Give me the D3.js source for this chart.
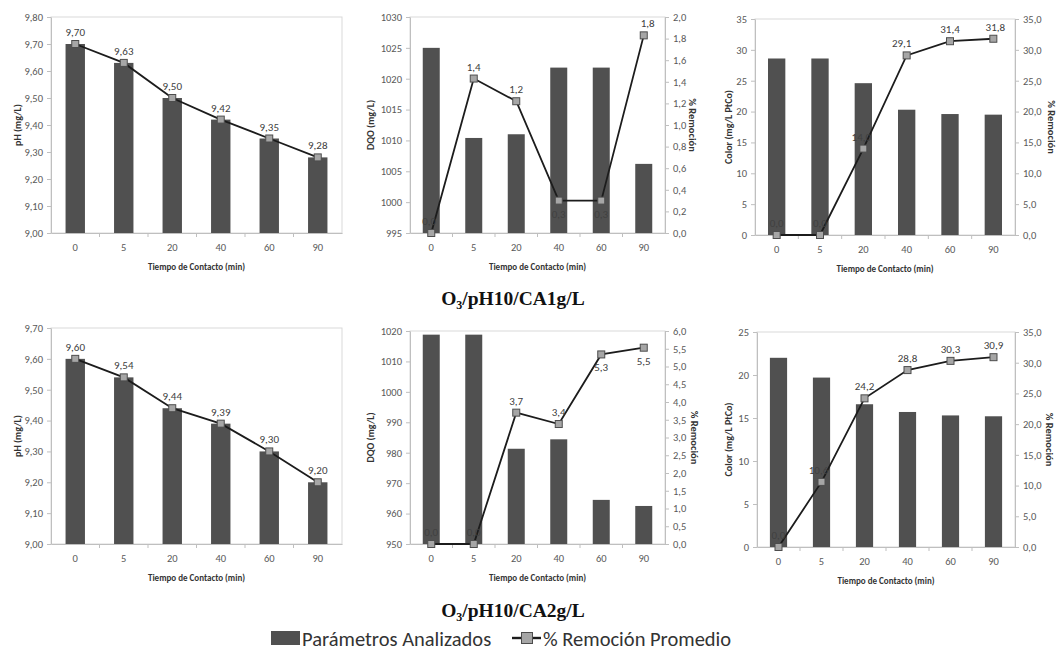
<!DOCTYPE html>
<html>
<head>
<meta charset="utf-8">
<script src="https://cdn.jsdelivr.net/npm/d3@7/dist/d3.min.js"></script>
<style>
  html, body { margin: 0; padding: 0; background: #ffffff; }
  svg { display: block; }
  text { font-family: Carlito, Lato, "Open Sans", sans-serif; }
</style>
</head>
<body>
<svg id="chart" width="1057" height="657"></svg>
<script>
// ---------------- DATA ----------------
const categories = ["0", "5", "20", "40", "60", "90"];

// Row 1: O3/pH10/CA1g/L
const ph1 = [9.70, 9.63, 9.50, 9.42, 9.35, 9.28];
const dqo1 = [1025.0, 1010.4, 1011.0, 1021.8, 1021.8, 1006.2];
const dqoRem1 = [0.00, 1.43, 1.22, 0.30, 0.30, 1.83];
const color1 = [28.6, 28.6, 24.6, 20.3, 19.6, 19.5];
const colorRem1 = [0.0, 0.0, 14.0, 29.1, 31.4, 31.8];

// Row 2: O3/pH10/CA2g/L
const ph2 = [9.60, 9.54, 9.44, 9.39, 9.30, 9.20];
const dqo2 = [1018.8, 1018.8, 981.3, 984.4, 964.5, 962.5];
const dqoRem2 = [0.00, 0.00, 3.70, 3.38, 5.34, 5.53];
const color2 = [22.0, 19.7, 16.6, 15.7, 15.3, 15.2];
const colorRem2 = [0.0, 10.6, 24.2, 28.8, 30.3, 30.9];

// Tick values
const phTicks1 = [9.00, 9.10, 9.20, 9.30, 9.40, 9.50, 9.60, 9.70, 9.80];
const phTicks2 = [9.00, 9.10, 9.20, 9.30, 9.40, 9.50, 9.60, 9.70];
const dqoTicks1 = [995, 1000, 1005, 1010, 1015, 1020, 1025, 1030];
const dqoTicks2 = [950, 960, 970, 980, 990, 1000, 1010, 1020];
const remTicks1 = [0.0, 0.2, 0.4, 0.6, 0.8, 1.0, 1.2, 1.4, 1.6, 1.8, 2.0];
const remTicks2 = [0.0, 0.5, 1.0, 1.5, 2.0, 2.5, 3.0, 3.5, 4.0, 4.5, 5.0, 5.5, 6.0];
const colorTicks1 = [0, 5, 10, 15, 20, 25, 30, 35];
const colorTicks2 = [0, 5, 10, 15, 20, 25];
const colorRemTicks = [0, 5, 10, 15, 20, 25, 30, 35];

// Texts
const xTitle = "Tiempo de Contacto (min)";
const rowTitles = ["CA1g/L", "CA2g/L"];
const legendLabels = ["Parámetros Analizados", "% Remoción Promedio"];

// ---------------- DRAWING ----------------
const locale = d3.formatLocale({ decimal: ",", thousands: ".", grouping: [3], currency: ["", ""] });
const f0 = locale.format(".0f"), f1 = locale.format(".1f"), f2 = locale.format(".2f");

const svg = d3.select("#chart");
svg.append("rect").attr("width", 1057).attr("height", 657).attr("fill", "#fff");

const BAR = "#505050", AXIS = "#bfbfbf", FRAME = "#d9d9d9", TICKTXT = "#595959";

function panel(cfg) {
  const g = svg.append("g");
  const x = d3.scaleBand().domain(categories).range([cfg.left, cfg.right])
    .paddingInner(0.6).paddingOuter(0.3);
  const yL = d3.scaleLinear().domain([cfg.lTicks[0], cfg.lTicks[cfg.lTicks.length - 1]])
    .range([cfg.bottom, cfg.top]);
  const yR = cfg.rTicks ? d3.scaleLinear().domain([cfg.rTicks[0], cfg.rTicks[cfg.rTicks.length - 1]])
    .range([cfg.bottom, cfg.top]) : yL;

  // frame
  g.append("rect").attr("x", cfg.left).attr("y", cfg.top)
    .attr("width", cfg.right - cfg.left).attr("height", cfg.bottom - cfg.top)
    .attr("fill", "none").attr("stroke", FRAME).attr("stroke-width", 1);

  // bars
  g.selectAll(".bar").data(cfg.bars).join("rect")
    .attr("x", (d, i) => x(categories[i]))
    .attr("width", x.bandwidth())
    .attr("y", d => yL(d))
    .attr("height", d => cfg.bottom - yL(d))
    .attr("fill", BAR);

  // left axis
  const axL = g.append("g").attr("transform", `translate(${cfg.left},0)`)
    .call(d3.axisLeft(yL).tickValues(cfg.lTicks).tickFormat(cfg.lFmt).tickSize(4).tickSizeOuter(0).tickPadding(4));
  axL.select(".domain").attr("stroke", AXIS);
  axL.selectAll(".tick line").attr("stroke", AXIS);
  axL.selectAll(".tick text").attr("fill", TICKTXT).style("font-size", "10.5px")
    .style("font-family", "Carlito, Lato, sans-serif");

  // right axis
  if (cfg.rTicks) {
    const axR = g.append("g").attr("transform", `translate(${cfg.right},0)`)
      .call(d3.axisRight(yR).tickValues(cfg.rTicks).tickFormat(cfg.rFmt).tickSize(4).tickSizeOuter(0).tickPadding(4));
    axR.select(".domain").attr("stroke", AXIS);
    axR.selectAll(".tick line").attr("stroke", AXIS);
    axR.selectAll(".tick text").attr("fill", TICKTXT).style("font-size", "10.5px")
      .style("font-family", "Carlito, Lato, sans-serif");
    g.append("text")
      .attr("transform", `translate(${cfg.rTitleX},${(cfg.top + cfg.bottom) / 2}) rotate(90)`)
      .attr("text-anchor", "middle").attr("dy", "0.35em")
      .attr("fill", "#333").style("font-size", "10.5px").style("font-weight", "bold")
      .text("% Remoción");
  }

  // bottom axis
  const axB = g.append("g").attr("transform", `translate(0,${cfg.bottom})`)
    .call(d3.axisBottom(x).tickSize(0).tickPadding(11));
  axB.select(".domain").attr("stroke", AXIS);
  axB.selectAll(".tick text").attr("fill", TICKTXT).style("font-size", "10.5px")
    .style("font-family", "Carlito, Lato, sans-serif");
  // minor ticks at category boundaries
  const step = x.step();
  const bounds = categories.slice(1).map(c => x(c) - step * x.paddingInner() / 2);
  g.selectAll(".mtick").data(bounds).join("line")
    .attr("x1", d => d).attr("x2", d => d)
    .attr("y1", cfg.bottom).attr("y2", cfg.bottom + 4)
    .attr("stroke", AXIS);

  // titles
  g.append("text").attr("x", (cfg.left + cfg.right) / 2).attr("y", cfg.bottom + 37)
    .attr("text-anchor", "middle").attr("fill", "#333")
    .style("font-size", "9px").style("font-weight", "bold").text(xTitle);
  g.append("text")
    .attr("transform", `translate(${cfg.lTitleX},${(cfg.top + cfg.bottom) / 2}) rotate(-90)`)
    .attr("text-anchor", "middle").attr("dy", "0.35em")
    .attr("fill", "#333").style("font-size", "10px").style("font-weight", "bold")
    .text(cfg.lTitle);

  // line
  const cx = c => x(c) + x.bandwidth() / 2;
  const line = d3.line().x((d, i) => cx(categories[i])).y(d => yR(d));
  g.append("path").datum(cfg.line).attr("d", line)
    .attr("fill", "none").attr("stroke", "#1c1c1c").attr("stroke-width", 1.8);
  g.selectAll(".mk").data(cfg.line).join("rect")
    .attr("x", (d, i) => cx(categories[i]) - 3.5)
    .attr("y", d => yR(d) - 3.5)
    .attr("width", 7).attr("height", 7)
    .attr("fill", "#a6a6a6").attr("stroke", "#4d4d4d").attr("stroke-width", 1);
  g.selectAll(".lbl").data(cfg.line).join("text")
    .attr("x", (d, i) => cx(categories[i]) + ((cfg.dx && cfg.dx[i]) || 0))
    .attr("y", (d, i) => yR(d) + ((cfg.below || []).includes(i) ? 17 : -8))
    .attr("text-anchor", "middle").attr("fill", "#404040")
    .style("font-size", "11px")
    .text(d => cfg.dFmt(d));
}

// Row 1
panel({ left: 51, right: 342, top: 17, bottom: 233, bars: ph1, line: ph1,
  lTicks: phTicks1, lFmt: f2, dFmt: f2, lTitle: "pH (mg/L)", lTitleX: 17 });
panel({ left: 410, right: 665, top: 17, bottom: 233, bars: dqo1, line: dqoRem1,
  lTicks: dqoTicks1, lFmt: f0, rTicks: remTicks1, rFmt: f1, dFmt: f1,
  lTitle: "DQO (mg/L)", lTitleX: 370, rTitleX: 693, below: [3, 4], dx: [-2, 0, 0, 0, 0, 4] });
panel({ left: 755, right: 1015, top: 19, bottom: 235, bars: color1, line: colorRem1,
  lTicks: colorTicks1, lFmt: f0, rTicks: colorRemTicks, rFmt: f1, dFmt: f1,
  lTitle: "Color  (mg/L PtCo)", lTitleX: 728, rTitleX: 1052, dx: [0, 0, -2, -5, 0, 2] });

// Row 2
panel({ left: 51, right: 342, top: 328, bottom: 544, bars: ph2, line: ph2,
  lTicks: phTicks2, lFmt: f2, dFmt: f2, lTitle: "pH (mg/L)", lTitleX: 17 });
panel({ left: 410, right: 665, top: 331, bottom: 544, bars: dqo2, line: dqoRem2,
  lTicks: dqoTicks2, lFmt: f0, rTicks: remTicks2, rFmt: f1, dFmt: f1,
  lTitle: "DQO (mg/L)", lTitleX: 370, rTitleX: 695, below: [4, 5] });
panel({ left: 757, right: 1015, top: 332, bottom: 547, bars: color2, line: colorRem2,
  lTicks: colorTicks2, lFmt: f0, rTicks: colorRemTicks, rFmt: f1, dFmt: f1,
  lTitle: "Color  (mg/L PtCo)", lTitleX: 728, rTitleX: 1050, dx: [0, -3, 0, 0, 0, 0] });

// Row titles (O3/pH10/...)
function rowTitle(y, suffix) {
  const t = svg.append("text").attr("x", 513).attr("y", y).attr("text-anchor", "middle")
    .attr("fill", "#111").style("font-family", "'Liberation Serif', 'Times New Roman', serif")
    .style("font-size", "19.5px").style("font-weight", "bold");
  t.append("tspan").text("O");
  t.append("tspan").attr("dy", 4).style("font-size", "12px").text("3");
  t.append("tspan").attr("dy", -4).text("/pH10/" + suffix);
}
rowTitle(305, rowTitles[0]);
rowTitle(617, rowTitles[1]);

// Legend
const lg = svg.append("g");
lg.append("rect").attr("x", 271).attr("y", 631).attr("width", 29).attr("height", 14).attr("fill", BAR);
lg.append("text").attr("x", 302).attr("y", 645.5).attr("fill", "#333")
  .style("font-size", "20.5px").text(legendLabels[0]);
lg.append("line").attr("x1", 512).attr("x2", 541).attr("y1", 638).attr("y2", 638)
  .attr("stroke", "#1c1c1c").attr("stroke-width", 2.4);
lg.append("rect").attr("x", 521.5).attr("y", 632.5).attr("width", 11).attr("height", 11)
  .attr("fill", "#a6a6a6").attr("stroke", "#4d4d4d").attr("stroke-width", 1);
lg.append("text").attr("x", 543).attr("y", 645.5).attr("fill", "#333")
  .style("font-size", "20.5px").text(legendLabels[1]);
</script>
</body>
</html>
